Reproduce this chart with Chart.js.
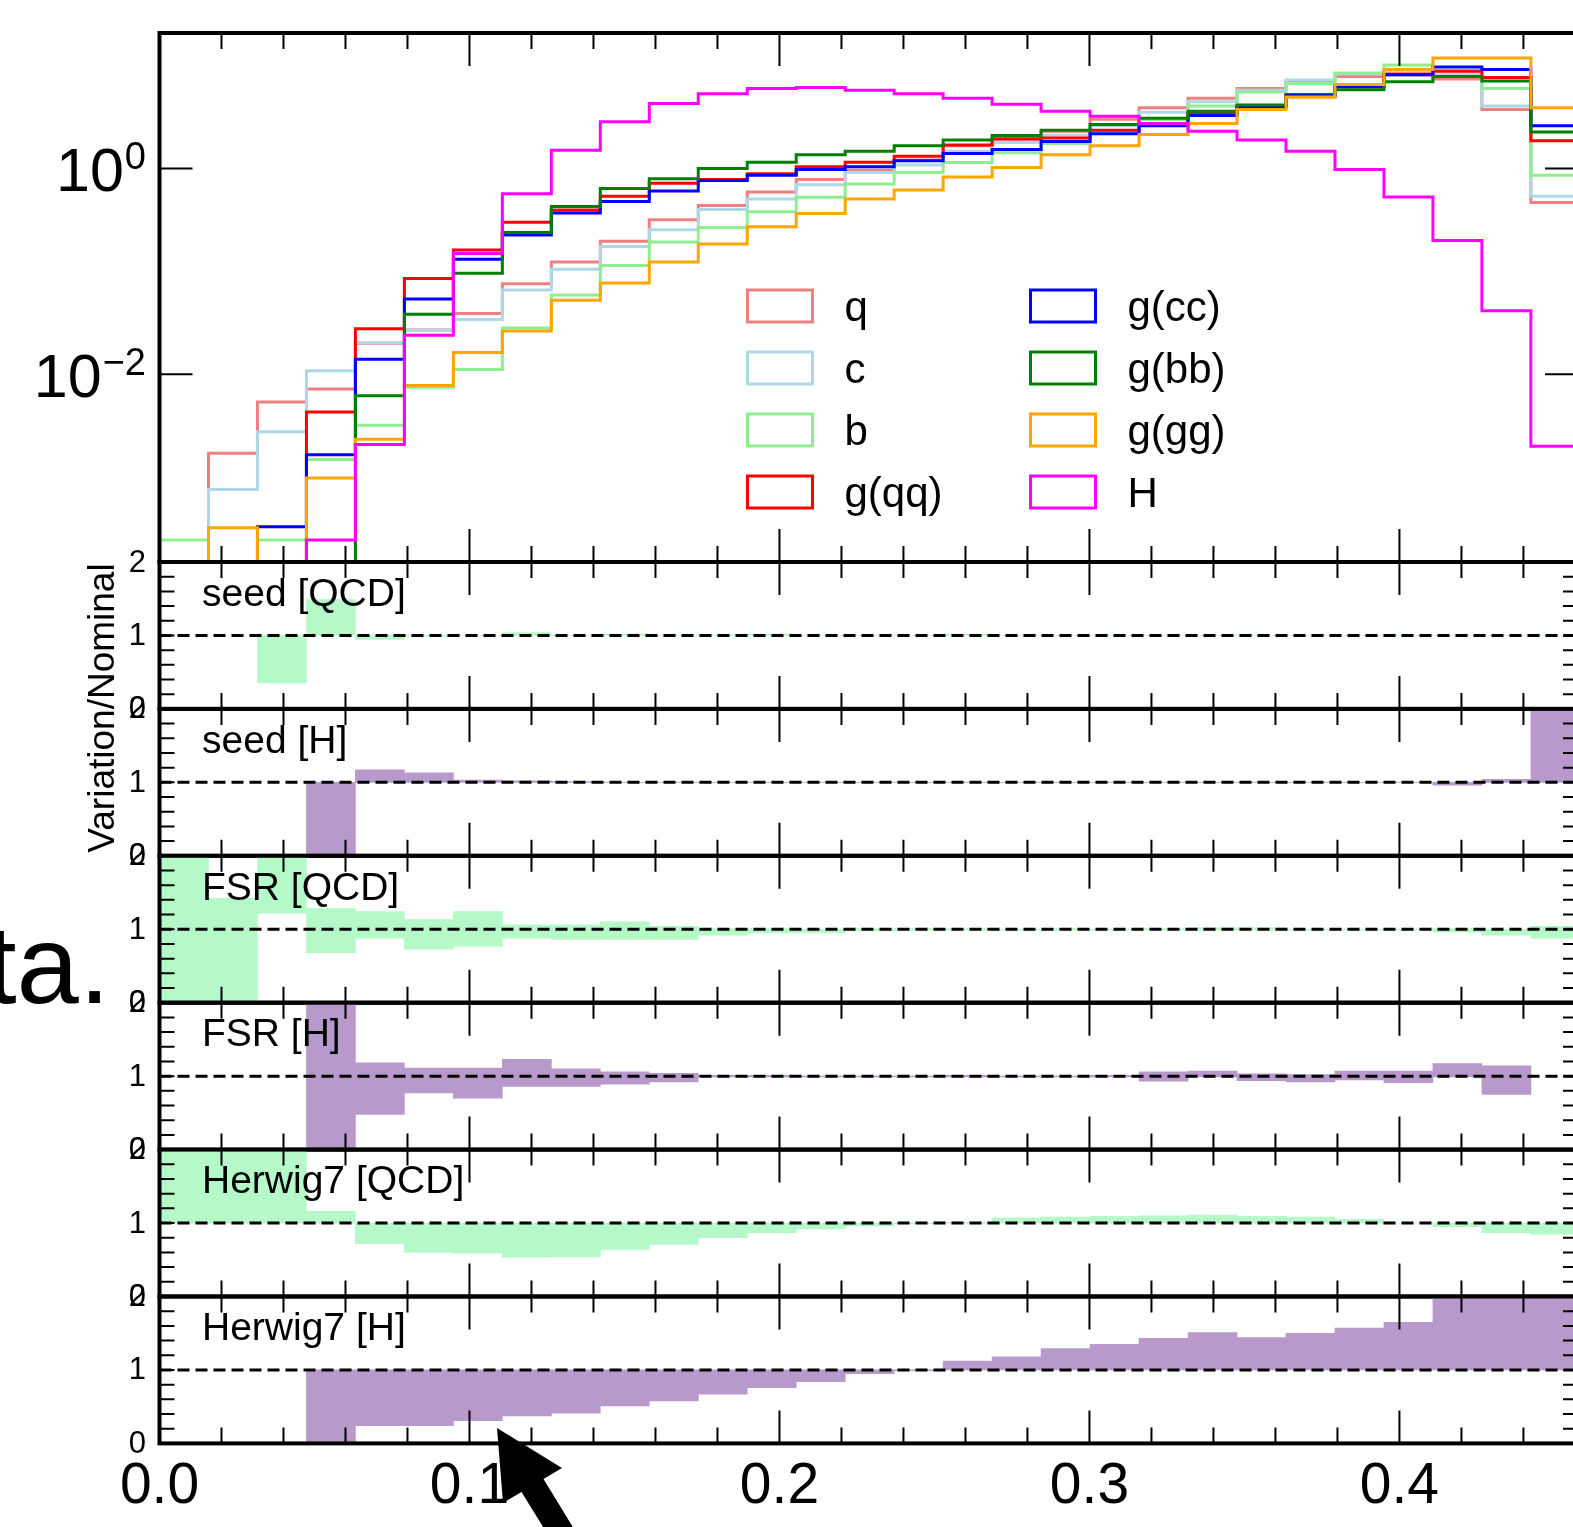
<!DOCTYPE html>
<html>
<head>
<meta charset="utf-8">
<title>Jet substructure templates</title>
<script src="https://cdn.jsdelivr.net/npm/chart.js@4.4.1/dist/chart.umd.min.js"></script>
<style>
  html, body { margin: 0; padding: 0; background: #fff; overflow: hidden; }
  #wrap { position: relative; width: 1573px; height: 1527px; overflow: hidden; }
  #wrap canvas { position: absolute; left: 0; top: 0; }
  #overlay { position: absolute; left: 0; top: 0; }
</style>
</head>
<body>
<div id="wrap">
  <canvas id="mainChart" width="1600" height="1527"></canvas>
  <canvas id="ratio0" width="1600" height="1527"></canvas>
  <canvas id="ratio1" width="1600" height="1527"></canvas>
  <canvas id="ratio2" width="1600" height="1527"></canvas>
  <canvas id="ratio3" width="1600" height="1527"></canvas>
  <canvas id="ratio4" width="1600" height="1527"></canvas>
  <canvas id="ratio5" width="1600" height="1527"></canvas>
  <svg id="overlay" width="1573" height="1527">
    <text x="110" y="1003" text-anchor="end" font-family="Liberation Sans, Arial, sans-serif" font-size="112" fill="#000">data.</text>
    <polygon points="497,1428 562,1468 543.5,1479 593,1560 563.5,1560 521.5,1492 503,1503" fill="#000"/>
  </svg>
</div>
<script>
// bin edges of the histogram (29 bins shown)
const binEdges = [0.0, 0.0158, 0.0316, 0.0474, 0.0632, 0.079, 0.0948, 0.1106, 0.1264, 0.1422,
  0.158, 0.1738, 0.1896, 0.2054, 0.2212, 0.237, 0.2528, 0.2686, 0.2844, 0.3002,
  0.316, 0.3318, 0.3476, 0.3634, 0.3792, 0.395, 0.4108, 0.4266, 0.4424, 0.4582];

// normalised distributions, one value per bin (0 = empty bin)
const qValues   = [0, 0.00171, 0.00537, 0.0072, 0.020, 0.027, 0.0389, 0.076, 0.123, 0.196, 0.317, 0.436, 0.590, 0.780, 0.962, 1.21, 1.66, 1.89, 2.30, 3.0, 3.89, 4.80, 5.97, 6.97, 7.83, 8.46, 7.41, 3.74, 0.467];
const cValues   = [0, 0.00076, 0.00277, 0.0108, 0.0203, 0.027, 0.0341, 0.066, 0.105, 0.174, 0.253, 0.40, 0.505, 0.694, 0.911, 1.08, 1.47, 1.79, 2.10, 2.60, 3.52, 4.44, 5.74, 7.25, 8.27, 9.15, 8.14, 4.05, 0.537];
const bValues   = [0.000246, 0, 0.000246, 0.00149, 0.00319, 0.0075, 0.0111, 0.0281, 0.0588, 0.114, 0.193, 0.267, 0.379, 0.525, 0.705, 0.911, 1.14, 1.42, 1.75, 2.25, 2.97, 4.05, 5.52, 6.70, 8.46, 10.1, 9.0, 5.97, 0.857];
const gqqValues = [0, 0, 0, 0.0043, 0.0277, 0.0853, 0.161, 0.300, 0.394, 0.537, 0.716, 0.78, 0.89, 1.04, 1.15, 1.31, 1.69, 1.94, 1.98, 2.35, 2.74, 3.41, 4.05, 5.23, 6.21, 8.14, 8.80, 7.65, 1.86];
const gccValues = [0, 0, 0.00033, 0.00165, 0.01396, 0.054, 0.131, 0.225, 0.37, 0.478, 0.604, 0.762, 0.857, 0.977, 1.04, 1.19, 1.40, 1.53, 1.83, 2.17, 2.60, 3.26, 3.95, 5.11, 6.21, 8.14, 9.66, 9.15, 2.60];
const gbbValues = [0, 0, 0, 0, 0.0062, 0.0383, 0.0958, 0.238, 0.426, 0.637, 0.792, 1.0, 1.15, 1.36, 1.47, 1.66, 1.89, 2.09, 2.35, 2.68, 3.08, 3.60, 4.14, 5.03, 5.83, 6.97, 7.83, 7.08, 2.26];
const gggValues = [0, 0.000323, 0, 0.00098, 0.00234, 0.0078, 0.0163, 0.0264, 0.0523, 0.077, 0.123, 0.184, 0.271, 0.364, 0.505, 0.618, 0.824, 1.02, 1.36, 1.66, 2.14, 2.74, 3.74, 4.91, 6.55, 9.15, 11.8, 11.8, 3.89];
const hValues   = [0, 0, 0, 0.000246, 0.00208, 0.024, 0.149, 0.567, 1.50, 2.85, 4.27, 5.31, 5.97, 6.11, 5.74, 5.31, 4.80, 4.21, 3.60, 3.21, 2.74, 2.30, 1.89, 1.47, 0.977, 0.529, 0.199, 0.0414, 0.0020];

// variation / nominal ratios (null = no entry)
const seedQCD = [null, null, 0.353, 1.49, 0.945, 0.99, 1.0, 1.04, 1.0, 1.02, 1.0, 1.01, 1.02, 1.0, 1.0, 1.0, 1.02, 1.0, 1.0, 1.0, 1.0, 1.0, 1.0, 1.0, 1.0, 1.0, 1.0, 1.0, 1.0];
const seedH   = [null, null, null, 0.0, 1.17, 1.13, 1.03, 1.02, 1.01, 1.0, 1.0, 1.0, 1.0, 1.0, 1.0, 1.0, 1.0, 1.0, 1.0, 1.0, 1.0, 1.0, 1.0, 1.0, 1.0, 1.0, 0.96, 1.04, 2.0];
const fsrQCDDown = [0, 0, 1.22, 0.68, 0.88, 0.73, 0.77, 0.88, 0.86, 0.86, 0.86, 0.92, 0.95, 0.95, 0.98, 0.99, 0.99, 0.99, 0.99, 0.99, 0.99, 0.99, 0.99, 0.99, 0.99, 0.99, 0.96, 0.92, 0.88];
const fsrQCDUp   = [2.0, 1.42, 2.0, 1.28, 1.24, 1.13, 1.24, 1.06, 1.06, 1.10, 1.04, 1.01, 1.01, 1.0, 1.01, 1.01, 1.01, 1.0, 1.01, 1.0, 1.01, 1.02, 1.02, 1.0, 1.0, 1.0, 1.01, 1.0, 1.04];
const fsrHDown = [null, null, null, 0, 0.48, 0.77, 0.70, 0.86, 0.86, 0.89, 0.92, 0.99, 0.99, 0.99, 0.99, 0.99, 0.99, 0.99, 0.99, 0.99, 0.93, 0.99, 0.94, 0.92, 0.95, 0.91, 0.99, 0.75, null];
const fsrHUp   = [null, null, null, 2.0, 1.18, 1.11, 1.11, 1.23, 1.10, 1.06, 1.04, 1.01, 1.01, 1.0, 1.0, 1.0, 1.01, 1.0, 1.0, 1.01, 1.06, 1.07, 1.03, 1.02, 1.07, 1.07, 1.17, 1.14, null];
const herwigQCD = [2.0, 2.0, 2.0, 1.16, 0.72, 0.60, 0.59, 0.535, 0.54, 0.64, 0.71, 0.80, 0.87, 0.92, 0.96, 0.99, 1.01, 1.07, 1.08, 1.09, 1.10, 1.11, 1.09, 1.08, 1.05, 1.0, 0.95, 0.87, 0.85];
const herwigH   = [null, null, null, 0.0, 0.24, 0.24, 0.31, 0.375, 0.41, 0.51, 0.58, 0.67, 0.76, 0.84, 0.95, 0.99, 1.12, 1.18, 1.29, 1.35, 1.43, 1.51, 1.44, 1.50, 1.57, 1.65, 2.0, 2.0, 2.0];

// axis ticks
const xTickValues = [0, 0.1, 0.2, 0.3, 0.4];
const xTickLabels = ['0.0', '0.1', '0.2', '0.3', '0.4'];
const yTickValues = [1, 0.01];
const yTickExponents = ['0', '\u22122'];
const ratioTickValues = [0, 1, 2];
const ratioTickLabels = ['0', '1', '2'];

const X_MAX = 0.4576;
const FONT = '"Liberation Sans", Arial, sans-serif';
const QCD_FILL = '#b5f9c9';
const H_FILL = '#b899cc';
const CANVAS_H = 1527, CANVAS_W = 1600;
const PLOT_LEFT = 159.5, PLOT_RIGHT = 1578;

const seriesDefs = [
  { label: 'q', color: '#f08080', values: qValues },
  { label: 'c', color: '#add8e6', values: cValues },
  { label: 'b', color: '#90ee90', values: bValues },
  { label: 'g(qq)', color: '#ff0000', values: gqqValues },
  { label: 'g(cc)', color: '#0000ff', values: gccValues },
  { label: 'g(bb)', color: '#008000', values: gbbValues },
  { label: 'g(gg)', color: '#ffa500', values: gggValues },
  { label: 'H', color: '#ff00ff', values: hValues }
];

const ratioPanels = [
  { label: 'seed [QCD]', color: QCD_FILL, lo: seedQCD.map(() => 1), hi: seedQCD },
  { label: 'seed [H]', color: H_FILL, lo: seedH.map(() => 1), hi: seedH },
  { label: 'FSR [QCD]', color: QCD_FILL, lo: fsrQCDDown, hi: fsrQCDUp },
  { label: 'FSR [H]', color: H_FILL, lo: fsrHDown, hi: fsrHUp },
  { label: 'Herwig7 [QCD]', color: QCD_FILL, lo: herwigQCD.map(() => 1), hi: herwigQCD },
  { label: 'Herwig7 [H]', color: H_FILL, lo: herwigH.map(() => 1), hi: herwigH }
];

const MAIN_TOP = 33, MAIN_BOTTOM = 562, RATIO_H = 146.9;

// empty bins are pushed far below the log axis so the step drops out of the frame
function stepPoints(values) {
  const pts = values.map((v, i) => ({ x: binEdges[i], y: v > 0 ? v : 1e-6 }));
  pts.push({ x: binEdges[values.length], y: pts[pts.length - 1].y });
  return pts;
}

function bandBars(lo, hi) {
  const bars = [];
  hi.forEach((h, i) => {
    if (h === null || lo[i] === null) return;
    bars.push({ x: (binEdges[i] + binEdges[i + 1]) / 2, y: [lo[i], h] });
  });
  return bars;
}

function drawTicks(chart, kind) {
  const { ctx, chartArea: a } = chart;
  const xs = chart.scales.x, ys = chart.scales.y;
  ctx.lineWidth = 2;
  ctx.strokeStyle = '#000';
  ctx.beginPath();
  for (let k = 0; k * 0.02 <= X_MAX; k++) {
    const px = xs.getPixelForValue(Math.round(k * 2) / 100);
    const len = k % 5 === 0 ? 33 : 16;
    ctx.moveTo(px, a.top); ctx.lineTo(px, a.top + len);
    ctx.moveTo(px, a.bottom); ctx.lineTo(px, a.bottom - len);
  }
  if (kind === 'main') {
    yTickValues.forEach(v => {
      const py = ys.getPixelForValue(v);
      ctx.moveTo(a.left, py); ctx.lineTo(a.left + 33, py);
      ctx.moveTo(a.right, py); ctx.lineTo(a.right - 33, py);
    });
  } else {
    for (let k = 1; k < 10; k++) {
      const py = ys.getPixelForValue(k / 5);
      ctx.moveTo(a.left, py); ctx.lineTo(a.left + 15, py);
      ctx.moveTo(a.right, py); ctx.lineTo(a.right - 15, py);
    }
  }
  ctx.stroke();
  ctx.lineWidth = 4;
  ctx.strokeRect(a.left, a.top, a.right - a.left, a.bottom - a.top);
}

const mainAxisPlugin = {
  id: 'mainAxis',
  afterDatasetsDraw(chart) {
    const { ctx } = chart;
    const ys = chart.scales.y;
    ctx.save();
    drawTicks(chart, 'main');
    ctx.fillStyle = '#000';
    ctx.textBaseline = 'alphabetic';
    yTickValues.forEach((v, i) => {
      const py = ys.getPixelForValue(v);
      ctx.font = '38px ' + FONT;
      ctx.textAlign = 'right';
      const supW = ctx.measureText(yTickExponents[i]).width;
      ctx.fillText(yTickExponents[i], 146, py + 1);
      ctx.font = '61px ' + FONT;
      ctx.fillText('10', 146 - supW - 1, py + 23);
    });
    // legend, two columns of four
    ctx.font = '42px ' + FONT;
    ctx.textAlign = 'left';
    ctx.lineWidth = 3;
    chart.data.datasets.forEach((ds, i) => {
      const col = Math.floor(i / 4), row = i % 4;
      const bx = [747.5, 1030.5][col];
      const by = [306, 368, 430, 492][row];
      ctx.strokeStyle = ds.borderColor;
      ctx.strokeRect(bx, by - 16, 65, 32);
      ctx.fillText(ds.label, bx + 97, by + 15);
    });
    ctx.restore();
  }
};

function ratioAxisPlugin(panelIndex, label, last) {
  return {
    id: 'ratioAxis',
    afterDatasetsDraw(chart) {
      const { ctx, chartArea: a } = chart;
      const xs = chart.scales.x, ys = chart.scales.y;
      ctx.save();
      const y1 = ys.getPixelForValue(1);
      ctx.strokeStyle = '#000';
      ctx.lineWidth = 3;
      ctx.setLineDash([12, 6]);
      ctx.beginPath(); ctx.moveTo(a.left, y1); ctx.lineTo(a.right, y1); ctx.stroke();
      ctx.setLineDash([]);
      drawTicks(chart, 'ratio');
      ctx.fillStyle = '#000';
      ctx.font = '31px ' + FONT;
      ctx.textAlign = 'right';
      ctx.textBaseline = 'middle';
      ratioTickValues.forEach((v, i) => ctx.fillText(ratioTickLabels[i], 146, ys.getPixelForValue(v) + 1));
      ctx.font = '39px ' + FONT;
      ctx.textAlign = 'left';
      ctx.fillText(label, 202, a.top + 33);
      if (panelIndex === 0) {
        ctx.save();
        ctx.translate(114, 708);
        ctx.rotate(-Math.PI / 2);
        ctx.font = '37px ' + FONT;
        ctx.textAlign = 'center';
        ctx.textBaseline = 'alphabetic';
        ctx.fillText('Variation/Nominal', 0, 0);
        ctx.restore();
      }
      if (last) {
        ctx.font = '57px ' + FONT;
        ctx.textAlign = 'center';
        ctx.textBaseline = 'alphabetic';
        xTickValues.forEach((v, i) => ctx.fillText(xTickLabels[i], xs.getPixelForValue(v), a.bottom + 60));
      }
      ctx.restore();
    }
  };
}

function renderCharts() {
  new Chart(document.getElementById('mainChart'), {
    type: 'line',
    data: {
      datasets: seriesDefs.map((s, i) => ({
        label: s.label,
        data: stepPoints(s.values),
        borderColor: s.color,
        borderWidth: 3,
        stepped: true,
        pointRadius: 0,
        fill: false,
        borderJoinStyle: 'miter',
        order: seriesDefs.length - i
      }))
    },
    options: {
      responsive: false,
      animation: false,
      devicePixelRatio: 1,
      events: [],
      layout: { padding: { left: PLOT_LEFT, right: CANVAS_W - PLOT_RIGHT, top: MAIN_TOP, bottom: CANVAS_H - MAIN_BOTTOM } },
      scales: {
        x: { type: 'linear', min: 0, max: X_MAX, display: false },
        y: { type: 'logarithmic', min: 1.5e-4, max: 20.7, display: false }
      },
      plugins: { legend: { display: false }, tooltip: { enabled: false } }
    },
    plugins: [mainAxisPlugin]
  });

  ratioPanels.forEach((p, k) => {
    const top = MAIN_BOTTOM + k * RATIO_H;
    new Chart(document.getElementById('ratio' + k), {
      type: 'bar',
      data: {
        datasets: [{
          data: bandBars(p.lo, p.hi),
          backgroundColor: p.color,
          borderWidth: 0,
          barPercentage: 1,
          categoryPercentage: 1
        }]
      },
      options: {
        responsive: false,
        animation: false,
        devicePixelRatio: 1,
        events: [],
        layout: { padding: { left: PLOT_LEFT, right: CANVAS_W - PLOT_RIGHT, top: top, bottom: CANVAS_H - top - RATIO_H } },
        scales: {
          x: { type: 'linear', min: 0, max: X_MAX, offset: false, display: false },
          y: { type: 'linear', min: 0, max: 2, display: false }
        },
        plugins: { legend: { display: false }, tooltip: { enabled: false } }
      },
      plugins: [ratioAxisPlugin(k, p.label, k === ratioPanels.length - 1)]
    });
  });
}

if (document.readyState === 'loading') {
  document.addEventListener('DOMContentLoaded', renderCharts);
} else {
  renderCharts();
}
</script>
</body>
</html>
